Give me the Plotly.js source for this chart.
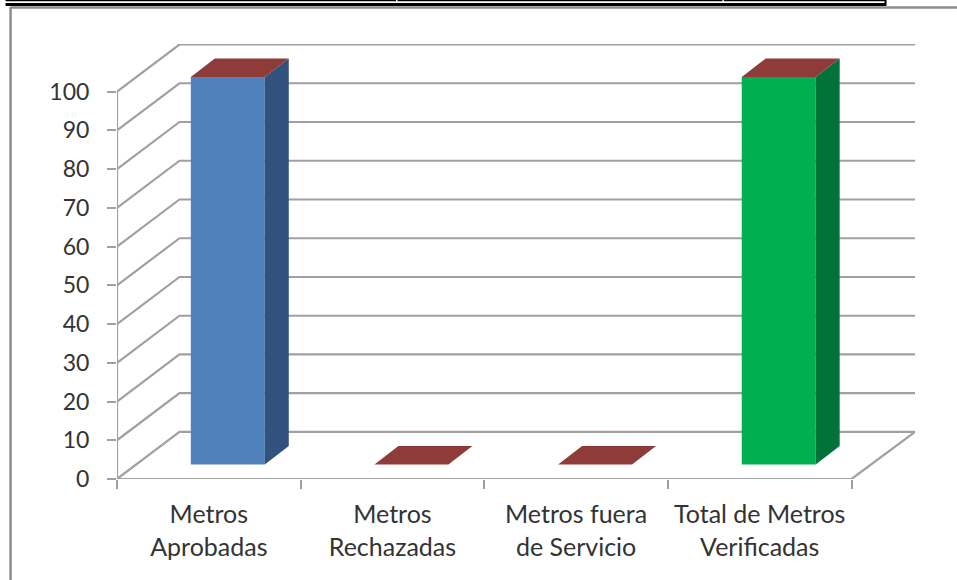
<!DOCTYPE html>
<html>
<head>
<meta charset="utf-8">
<script src="https://cdn.plot.ly/plotly-3.0.1.min.js"></script>
<style>html,body{margin:0;padding:0;background:#fff;overflow:hidden}#chart{width:957px;height:580px}</style>
</head>
<body>
<div id="chart"></div>
<script>
// Data
const categories = ["Metros<br>Aprobadas", "Metros<br>Rechazadas", "Metros fuera<br>de Servicio", "Total de Metros<br>Verificadas"];
const values = [100, 0, 0, 100];
const yTicks = [0, 10, 20, 30, 40, 50, 60, 70, 80, 90, 100];
const frontColors = ["#4F81BD", "#4F81BD", "#4F81BD", "#00B050"];
const sideColors = ["#31527C", "#31527C", "#31527C", "#00723A"];
const topColor = "#8E3B3A";
const gridColor = "#A0A0A0";

// Pixel geometry of the plot
const L = 116.5, R = 915, T = 44, B = 478.7;
const pxX = 183.75, pxY = 3.872;          // pixels per category, pixels per value unit
const wallDX = 62.5 / pxX, wallDY = 47 / pxY;
const barOffX = 19 / pxX, barOffY = 14.4 / pxY;
const barDX = 24 / pxX, barDY = 18.6 / pxY, barW = 74 / pxX;
const frontEnd = categories.length;
const xMax = (R - L) / pxX, yMax = (B - T) / pxY;

const traces = [];
const line = (x, y, w) => traces.push({type: "scatter", mode: "lines", x, y, cliponaxis: false,
  line: {color: gridColor, width: w || 2.2}, hoverinfo: "skip", showlegend: false});
const poly = (x, y, c) => traces.push({type: "scatter", mode: "lines", x, y, fill: "toself", fillcolor: c,
  line: {color: c, width: 0}, cliponaxis: false, hoverinfo: "skip", showlegend: false});

yTicks.forEach(v => {
  if (v > 0) line([0, wallDX, xMax], [v, v + wallDY, v + wallDY]);
});
line([0, wallDX, xMax, frontEnd, 0], [0, wallDY, wallDY, 0, 0]);
line([0, 0], [0, 100]);

const centers = values.map((_, i) => i + 0.5);
values.forEach((v, i) => {
  const x0 = centers[i] + barOffX - barW / 2, x1 = x0 + barW;
  const y1 = v + barOffY, y0 = barOffY;
  if (v > 0) {
    poly([x0, x1, x1, x0, x0], [y0, y0, y1, y1, y0], frontColors[i]);
    poly([x1, x1 + barDX, x1 + barDX, x1, x1], [y0, y0 + barDY, y1 + barDY, y1, y0], sideColors[i]);
  }
  poly([x0, x1, x1 + barDX, x0 + barDX, x0], [y1, y1, y1 + barDY, y1 + barDY, y1], topColor);
});

// Page decoration, given in page pixels
const pX = px => (px - L) / (R - L), pY = py => (B - py) / (B - T);
const seg = (x0, y0, x1, y1, color, width) => ({type: "line", xref: "paper", yref: "paper",
  x0: pX(x0), x1: pX(x1), y0: pY(y0), y1: pY(y1), line: {color, width}});
const shapes = [
  seg(10, 7.5, 957, 7.5, "#8C8C8C", 2.5),
  seg(10, 7, 10, 580, "#8C8C8C", 2.5),
  seg(5, 4.5, 886, 4.5, "#000000", 3),
  seg(5, 0.5, 886, 0.5, "#000000", 1.5),
  seg(885.5, 0, 885.5, 6, "#000000", 2),
  seg(396.5, 0, 396.5, 2.5, "#FFFFFF", 1.5),
  seg(723, 0, 723, 2.5, "#FFFFFF", 1.5)
];

const textColor = "#333333";
const yFont = {family: "Lato, Carlito, sans-serif", size: 23, color: textColor};
const xFont = {family: "Lato, Carlito, sans-serif", size: 25, color: textColor};
const layout = {
  width: 957, height: 580,
  margin: {l: L, r: 957 - R, t: T, b: 580 - B, pad: 0},
  paper_bgcolor: "#fff", plot_bgcolor: "#fff",
  showlegend: false,
  xaxis: {range: [0, xMax], showgrid: false, zeroline: false, showline: false, fixedrange: true,
    tickmode: "array", tickvals: centers, ticktext: categories, ticks: "", tickangle: 0, tickfont: xFont,
    ticklabelstandoff: 18,
    minor: {tickmode: "array", tickvals: [0, 1, 2, 3, 4], ticks: "outside", ticklen: 9, tickwidth: 2, tickcolor: gridColor, showgrid: false}},
  yaxis: {range: [0, yMax], showgrid: false, zeroline: false, showline: false, fixedrange: true,
    tickmode: "array", tickvals: yTicks, ticktext: yTicks.map(String), ticks: "outside", ticklen: 9, tickwidth: 2, tickcolor: gridColor,
    tickfont: yFont, ticklabelstandoff: 13},
  shapes
};
Plotly.newPlot("chart", traces, layout, {displayModeBar: false, staticPlot: true});
</script>
</body>
</html>
